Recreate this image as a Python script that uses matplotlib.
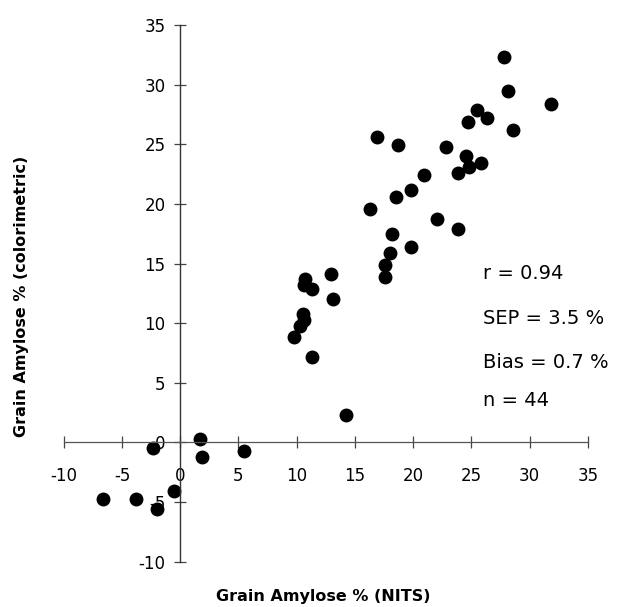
import numpy as np
import matplotlib.pyplot as plt

plt.rcParams['font.family'] = ['DejaVu Sans']

# NITS vs colorimetric grain amylose (%)
nits = [27.8, 28.1, 31.8, 25.5, 26.35, 24.7, 28.55, 16.85, 18.65, 22.8,
        24.55, 24.75, 25.8, 23.8, 20.9, 19.8, 18.5, 16.25, 22.0, 23.8,
        18.2, 18.0, 19.8, 17.55, 17.55, 12.9, 10.7, 10.6, 11.3, 13.1,
        10.5, 10.65, 10.3, 9.75, 11.3, 14.2, 1.7, -2.3, 1.9, 5.45,
        -0.55, -6.6, -3.8, -2.0]
colorimetric = [32.3, 29.5, 28.4, 27.9, 27.2, 26.85, 26.2, 25.6, 24.9, 24.8,
                24.05, 23.1, 23.4, 22.6, 22.4, 21.2, 20.55, 19.6, 18.7, 17.9,
                17.45, 15.9, 16.35, 14.85, 13.9, 14.1, 13.7, 13.2, 12.9, 12.0,
                10.8, 10.3, 9.8, 8.8, 7.2, 2.3, 0.3, -0.5, -1.25, -0.75,
                -4.05, -4.75, -4.75, -5.55]
ticks = np.arange(-10, 36, 5)
stats = ["r = 0.94", "SEP = 3.5 %", "Bias = 0.7 %", "n = 44"]
stat_y = [14.2, 10.4, 6.7, 3.5]

fig = plt.figure(figsize=(6.26, 6.07), dpi=100)
ax = fig.add_axes([63.7 / 626, 1 - 561.7 / 607, (588 - 63.7) / 626, (561.7 - 25) / 607])

ax.plot(nits, colorimetric, 'o', color='black', markersize=9, clip_on=False)

ax.set_xlim(-10, 35)
ax.set_ylim(-10, 35)
for s in ['top', 'right']:
    ax.spines[s].set_visible(False)
ax.spines['left'].set_position(('data', 0))
ax.spines['bottom'].set_position(('data', 0))
ax.spines['left'].set_color('#333333')
ax.spines['bottom'].set_color('#555555')
ax.spines['left'].set_linewidth(1.0)
ax.spines['bottom'].set_linewidth(0.9)

ax.set_xticks(ticks)
ax.set_yticks(ticks)
ax.set_xticklabels([str(t) for t in ticks])
ax.set_yticklabels([str(t) for t in ticks])
ax.tick_params(axis='x', direction='inout', length=9, width=0.9, pad=13,
               labelsize=12, color='#444444')
ax.tick_params(axis='y', direction='inout', length=9, width=0.9, pad=6,
               labelsize=12, color='#444444')

for label, yv in zip(stats, stat_y):
    ax.text(26.0, yv, label, fontsize=14, va='center', ha='left')

fig.text(22 / 626, 1 - 296 / 607, "Grain Amylose % (colorimetric)",
         rotation=90, fontsize=11.5, fontweight='bold', ha='center', va='center')
fig.text(323 / 626, 1 - 596 / 607, "Grain Amylose % (NITS)",
         fontsize=11.5, fontweight='bold', ha='center', va='center')

fig.savefig('out.png', dpi=100)
